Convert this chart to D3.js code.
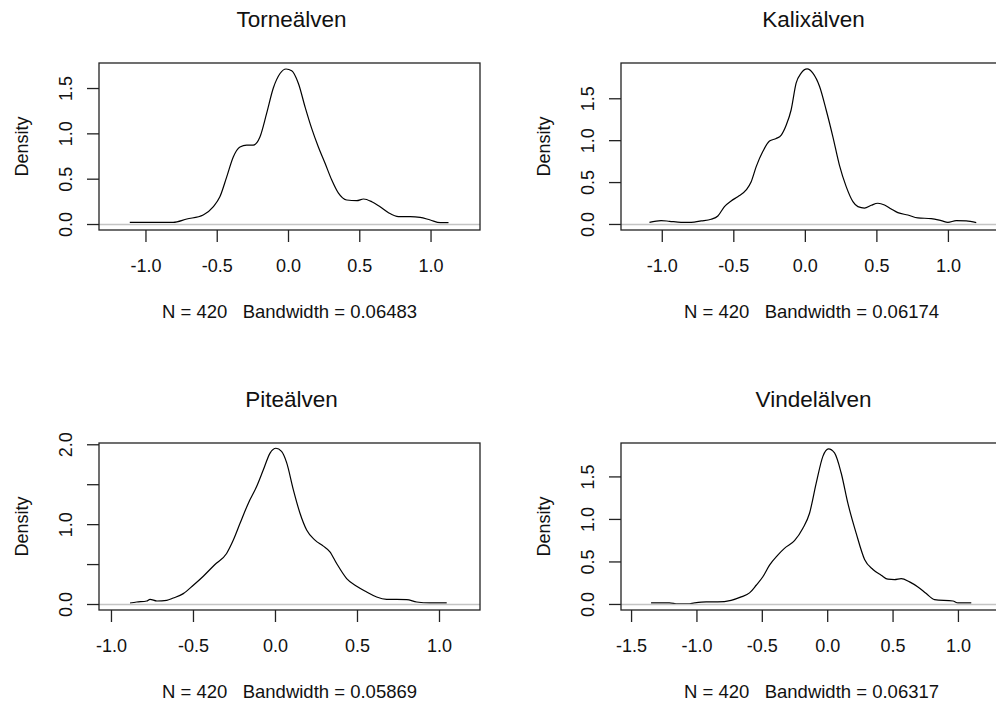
<!DOCTYPE html>
<html>
<head>
<meta charset="utf-8">
<script src="https://cdn.jsdelivr.net/npm/d3@7"></script>
<style>
body { margin: 0; background: #fff; }
svg { display: block; }
text { font-family: "Liberation Sans", Arial, sans-serif; fill: #111; }
</style>
</head>
<body>
<div id="chart"></div>
<script>
// data
var rivers = ["Torneälven", "Kalixälven", "Piteälven", "Vindelälven"];
var bandwidths = ["0.06483", "0.06174", "0.05869", "0.06317"];
var nObs = 420;

var torneX = [-1.11, -0.806, -0.71, -0.595, -0.525, -0.478, -0.43, -0.384, -0.337, -0.29, -0.244, -0.197, -0.15, -0.103, -0.056, -0.014, 0.026, 0.073, 0.12, 0.166, 0.213, 0.26, 0.307, 0.354, 0.412, 0.482, 0.53, 0.588, 0.646, 0.705, 0.775, 0.857, 0.927, 0.998, 1.068, 1.126];
var torneY = [0.018, 0.018, 0.055, 0.1, 0.19, 0.30, 0.52, 0.74, 0.85, 0.87, 0.87, 0.96, 1.22, 1.50, 1.66, 1.71, 1.69, 1.55, 1.29, 1.055, 0.85, 0.67, 0.485, 0.34, 0.265, 0.257, 0.276, 0.246, 0.19, 0.125, 0.081, 0.081, 0.074, 0.044, 0.015, 0.015];

var kalixX = [-1.086, -1.005, -0.946, -0.865, -0.795, -0.725, -0.655, -0.608, -0.562, -0.515, -0.469, -0.41, -0.375, -0.34, -0.294, -0.247, -0.2, -0.165, -0.13, -0.096, -0.061, -0.026, 0.016, 0.056, 0.103, 0.149, 0.196, 0.242, 0.289, 0.336, 0.371, 0.417, 0.464, 0.51, 0.557, 0.604, 0.65, 0.72, 0.79, 0.883, 0.953, 1.0, 1.058, 1.128, 1.198];
var kalixY = [0.02, 0.04, 0.032, 0.02, 0.02, 0.036, 0.056, 0.095, 0.207, 0.275, 0.326, 0.406, 0.505, 0.684, 0.864, 0.99, 1.02, 1.06, 1.18, 1.36, 1.68, 1.80, 1.85, 1.80, 1.64, 1.36, 1.04, 0.70, 0.446, 0.267, 0.207, 0.19, 0.223, 0.247, 0.227, 0.179, 0.135, 0.107, 0.072, 0.064, 0.04, 0.02, 0.04, 0.036, 0.016];

var piteX = [-0.884, -0.843, -0.782, -0.762, -0.72, -0.66, -0.62, -0.559, -0.498, -0.437, -0.366, -0.295, -0.254, -0.213, -0.163, -0.112, -0.071, -0.03, 0.006, 0.04, 0.071, 0.112, 0.152, 0.193, 0.244, 0.295, 0.335, 0.376, 0.437, 0.498, 0.559, 0.62, 0.681, 0.803, 0.864, 0.945, 1.047];
var piteY = [0.013, 0.025, 0.038, 0.059, 0.038, 0.046, 0.075, 0.13, 0.235, 0.348, 0.495, 0.633, 0.80, 1.01, 1.26, 1.47, 1.68, 1.89, 1.95, 1.91, 1.77, 1.43, 1.14, 0.927, 0.80, 0.725, 0.654, 0.507, 0.319, 0.222, 0.151, 0.088, 0.059, 0.055, 0.025, 0.013, 0.013];

var vindelX = [-1.347, -1.207, -1.143, -1.066, -1.015, -0.926, -0.837, -0.735, -0.658, -0.594, -0.543, -0.492, -0.441, -0.378, -0.327, -0.25, -0.186, -0.135, -0.084, -0.033, 0.01, 0.056, 0.107, 0.158, 0.222, 0.286, 0.35, 0.413, 0.464, 0.515, 0.566, 0.63, 0.694, 0.758, 0.821, 0.962, 1.0, 1.102];
var vindelY = [0.012, 0.012, 0.0, 0.0, 0.012, 0.024, 0.024, 0.043, 0.083, 0.13, 0.22, 0.32, 0.457, 0.575, 0.654, 0.744, 0.89, 1.067, 1.42, 1.736, 1.823, 1.776, 1.54, 1.185, 0.83, 0.524, 0.405, 0.339, 0.291, 0.287, 0.299, 0.26, 0.2, 0.122, 0.051, 0.035, 0.012, 0.012];

var xTicksA = [-1.0, -0.5, 0.0, 0.5, 1.0];
var xTicksB = [-1.5, -1.0, -0.5, 0.0, 0.5, 1.0];
var yTicksA = [0.0, 0.5, 1.0, 1.5];
var yTicksB = [0.0, 0.5, 1.0, 1.5, 2.0];
var yLabelsB = [0.0, 1.0, 2.0];

var W = 996, H = 706;

var panels = [
	{ name: rivers[0], bw: bandwidths[0], xs: torneX, ys: torneY, left: 99, top: 63, xdom: [-1.326, 1.347], ydom: [-0.066, 1.776], xt: xTicksA, yt: yTicksA, yl: yTicksA },
	{ name: rivers[1], bw: bandwidths[1], xs: kalixX, ys: kalixY, left: 621, top: 63, xdom: [-1.285, 1.378], ydom: [-0.072, 1.921], xt: xTicksA, yt: yTicksA, yl: yTicksA },
	{ name: rivers[2], bw: bandwidths[2], xs: piteX, ys: piteY, left: 99, top: 443, xdom: [-1.073, 1.25], ydom: [-0.075, 2.016], xt: xTicksA, yt: yTicksB, yl: yLabelsB },
	{ name: rivers[3], bw: bandwidths[3], xs: vindelX, ys: vindelY, left: 621, top: 443, xdom: [-1.577, 1.337], ydom: [-0.071, 1.893], xt: xTicksB, yt: yTicksA, yl: yTicksA }
];
var boxW = 381, boxH = 167;

var svg = d3.select("#chart")
	.append("svg")
	.attr("width", W)
	.attr("height", H);

var fmt = function(v){ return v.toFixed(1); };

panels.forEach(function(p){
	var g = svg.append("g")
		.attr("transform", "translate(" + p.left + "," + p.top + ")");

	var x = d3.scaleLinear().domain(p.xdom).range([0, boxW]);
	var y = d3.scaleLinear().domain(p.ydom).range([boxH, 0]);

	var pts = p.xs.map(function(v, i){ return [v, p.ys[i]]; });

	var line = d3.line()
		.x(function(d){ return x(d[0]); })
		.y(function(d){ return y(d[1]); })
		.curve(d3.curveMonotoneX);

	g.append("path")
		.datum(pts)
		.attr("d", line)
		.attr("fill", "none")
		.attr("stroke", "#000")
		.attr("stroke-width", 1.2);

	// zero line goes on top, like plot.density does
	g.append("line")
		.attr("x1", 0)
		.attr("x2", boxW)
		.attr("y1", Math.round(y(0)) + 0.5)
		.attr("y2", Math.round(y(0)) + 0.5)
		.attr("stroke", "#c4c4c4")
		.attr("stroke-width", 1.3);

	g.append("rect")
		.attr("x", 0)
		.attr("y", 0)
		.attr("width", boxW)
		.attr("height", boxH)
		.attr("fill", "none")
		.attr("stroke", "#222")
		.attr("stroke-width", 1.3);

	// x axis
	var xa = g.append("g")
		.attr("transform", "translate(0," + boxH + ")")
		.call(d3.axisBottom(x).tickValues(p.xt).tickSize(12).tickFormat(fmt));
	xa.select(".domain").remove();
	xa.selectAll("line").attr("stroke", "#222").attr("stroke-width", 1.3);
	xa.selectAll("text")
		.attr("y", 42)
		.attr("dy", null)
		.attr("font-size", "18px")
		.attr("fill", "#111");

	// y axis
	var ya = g.append("g")
		.call(d3.axisLeft(y).tickValues(p.yt).tickSize(12)
			.tickFormat(function(v){ return p.yl.indexOf(v) >= 0 ? fmt(v) : ""; }));
	ya.select(".domain").remove();
	ya.selectAll("line").attr("stroke", "#222").attr("stroke-width", 1.3);
	ya.selectAll("text")
		.attr("x", null)
		.attr("dy", null)
		.attr("transform", "translate(-27,0) rotate(-90)")
		.attr("text-anchor", "middle")
		.attr("font-size", "18px")
		.attr("fill", "#111");
	ya.attr("font-family", null).attr("font-size", null);
	xa.attr("font-family", null).attr("font-size", null);

	g.append("text")
		.attr("transform", "translate(-71.5," + (boxH / 2) + ") rotate(-90)")
		.attr("text-anchor", "middle")
		.attr("font-size", "18px")
		.text("Density");

	g.append("text")
		.attr("x", boxW / 2 + 2)
		.attr("y", -36)
		.attr("text-anchor", "middle")
		.attr("font-size", "22.5px")
		.text(p.name);

	g.append("text")
		.attr("x", boxW / 2)
		.attr("y", boxH + 88)
		.attr("text-anchor", "middle")
		.attr("font-size", "18.5px")
		.style("white-space", "pre")
		.text("N = " + nObs + "   Bandwidth = " + p.bw);
});
</script>
</body>
</html>
